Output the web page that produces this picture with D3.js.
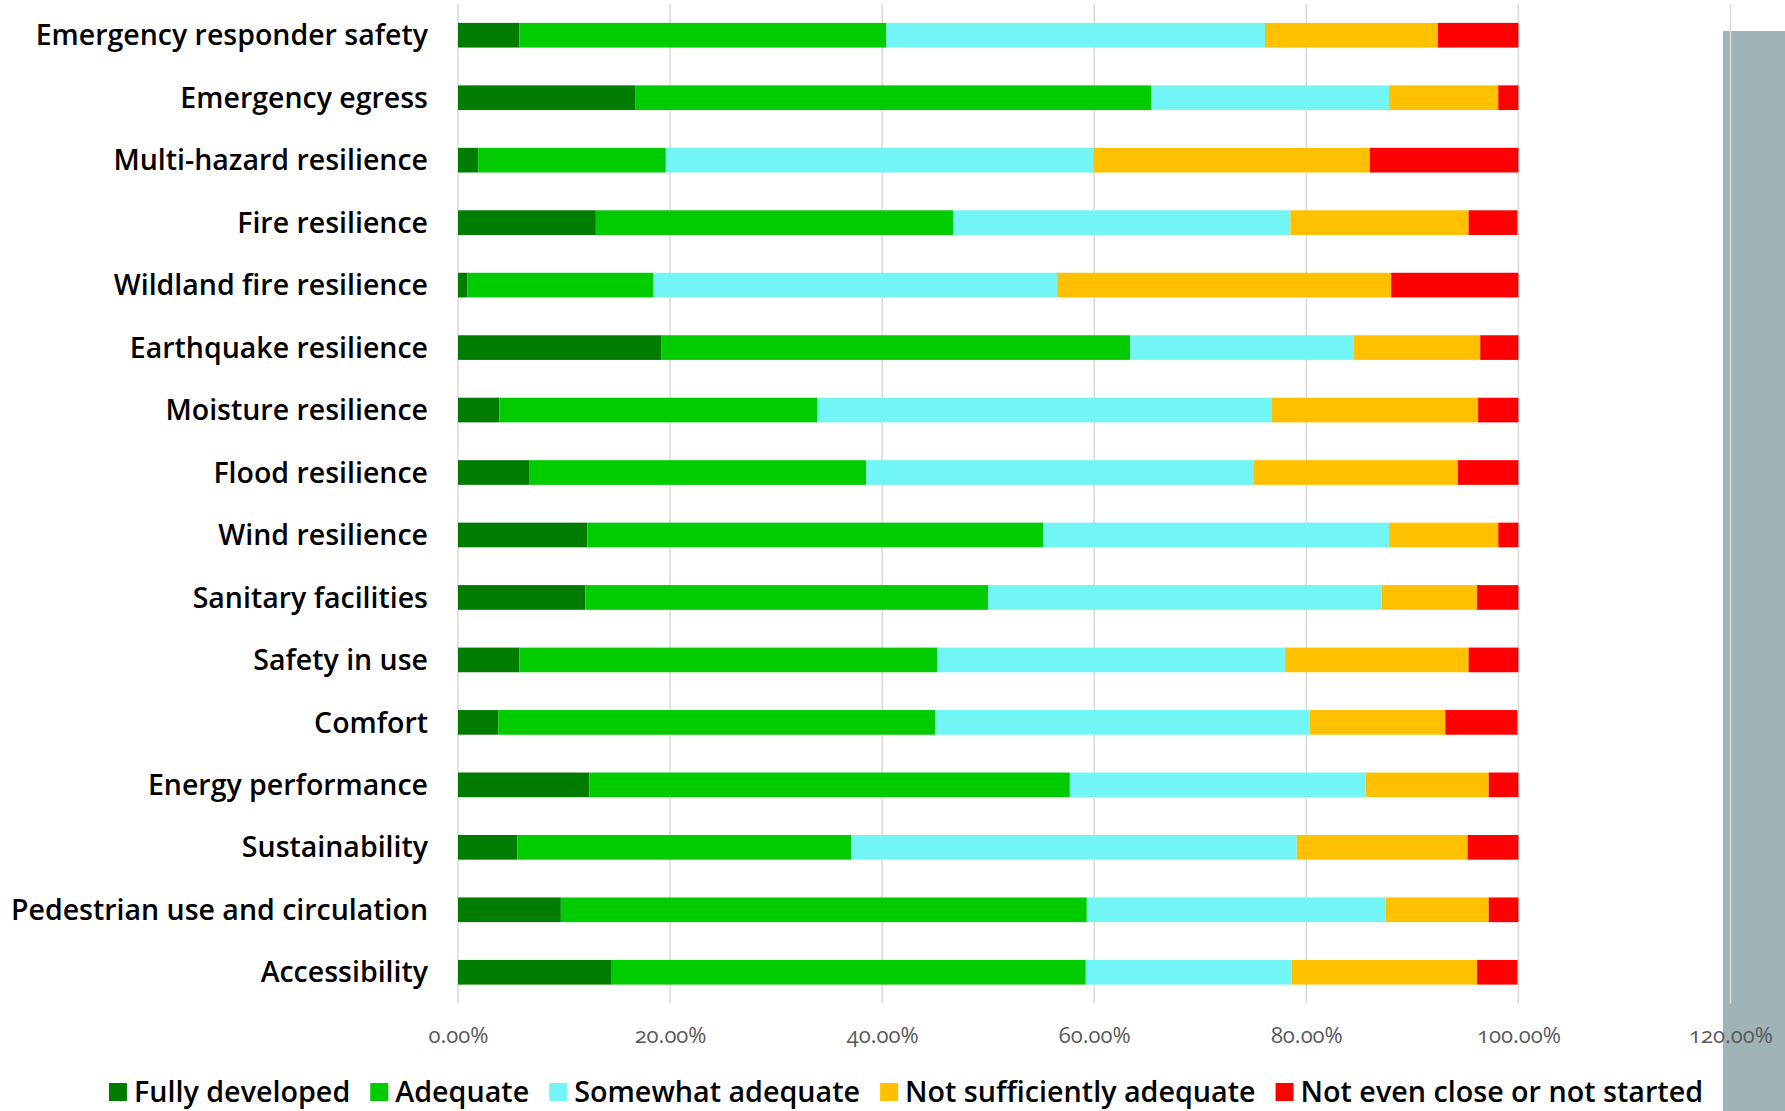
<!DOCTYPE html>
<html>
<head>
<meta charset="utf-8">
<script src="https://cdn.jsdelivr.net/npm/d3@7"></script>
<style>
  html, body { margin: 0; padding: 0; background: #ffffff; }
  svg { display: block; }
</style>
</head>
<body>
<svg id="chart" width="1785" height="1111"></svg>
<script>
// ---- data (percent of respondents) ----
const categories = [
  "Emergency responder safety",
  "Emergency egress",
  "Multi-hazard resilience",
  "Fire resilience",
  "Wildland fire resilience",
  "Earthquake resilience",
  "Moisture resilience",
  "Flood resilience",
  "Wind resilience",
  "Sanitary facilities",
  "Safety in use",
  "Comfort",
  "Energy performance",
  "Sustainability",
  "Pedestrian use and circulation",
  "Accessibility"
];
const seriesNames = ["Fully developed", "Adequate", "Somewhat adequate", "Not sufficiently adequate", "Not even close or not started"];
const fullyDeveloped   = [5.8, 16.7, 1.9, 13.0, 0.9, 19.2, 3.9, 6.7, 12.2, 12.0, 5.8, 3.8, 12.4, 5.6, 9.7, 14.5];
const adequate         = [34.6, 48.7, 17.7, 33.7, 17.5, 44.2, 30.0, 31.8, 43.0, 38.0, 39.4, 41.2, 45.3, 31.5, 49.6, 44.7];
const somewhatAdequate = [35.7, 22.4, 40.3, 31.8, 38.1, 21.1, 42.8, 36.5, 32.6, 37.1, 32.8, 35.3, 27.9, 42.0, 28.2, 19.4];
const notSufficiently  = [16.3, 10.3, 26.1, 16.8, 31.5, 11.9, 19.5, 19.3, 10.3, 9.0, 17.3, 12.8, 11.6, 16.1, 9.7, 17.5];
const notEvenClose     = [7.7, 1.9, 14.0, 4.6, 12.0, 3.6, 3.8, 5.8, 1.9, 4.0, 4.8, 6.8, 2.9, 4.8, 2.9, 3.8];
const xTicks = [0, 20, 40, 60, 80, 100, 120];
const colors = ["#007c00", "#00cc00", "#72f5f5", "#ffc000", "#ff0000"];

// ---- build table ----
const seriesValues = [fullyDeveloped, adequate, somewhatAdequate, notSufficiently, notEvenClose];
const table = categories.map((c, i) => {
  const row = { category: c };
  seriesNames.forEach((s, j) => { row[s] = seriesValues[j][i]; });
  return row;
});
const stacked = d3.stack().keys(seriesNames)(table);

const svg = d3.select("#chart");
const W = 1785, H = 1111;
const margin = { left: 458, right: 55, top: 4, bottom: 107.5 };

// grey strip at right edge
svg.append("rect")
  .attr("x", 1723).attr("y", 31)
  .attr("width", W - 1723).attr("height", H - 31)
  .attr("fill", "#a0b4b8");

const x = d3.scaleLinear().domain([0, 120]).range([margin.left, 1730.5]);
const y = d3.scaleBand().domain(categories).range([margin.top, H - margin.bottom]).paddingInner(0.605).paddingOuter(0.3025);
const color = d3.scaleOrdinal().domain(seriesNames).range(colors);

// gridlines
svg.append("g").selectAll("line").data(xTicks).join("line")
  .attr("x1", d => x(d)).attr("x2", d => x(d))
  .attr("y1", margin.top).attr("y2", H - margin.bottom)
  .attr("stroke", "#d9d9d9").attr("stroke-width", 1.5);

// bars
svg.append("g").selectAll("g").data(stacked).join("g")
  .attr("fill", d => color(d.key))
  .selectAll("rect").data(d => d).join("rect")
  .attr("x", d => x(d[0]))
  .attr("width", d => Math.max(0, x(Math.min(d[1], 100)) - x(d[0])))
  .attr("y", d => y(d.data.category))
  .attr("height", y.bandwidth());

// category axis labels
const yAxis = d3.axisLeft(y).tickSize(0).tickPadding(30);
const yg = svg.append("g").attr("transform", `translate(${margin.left},1)`).call(yAxis);
yg.select(".domain").remove();
yg.selectAll("text")
  .attr("font-family", "'Open Sans', sans-serif")
  .attr("font-weight", 600)
  .attr("font-size", 28.5)
  .attr("fill", "#000000");

// x axis tick labels
const xAxis = d3.axisBottom(x).tickValues(xTicks).tickSize(0).tickPadding(0)
  .tickFormat(d => d3.format(".2f")(d) + "%");
const xg = svg.append("g").attr("transform", `translate(0,1027)`).call(xAxis);
xg.select(".domain").remove();
xg.selectAll("text")
  .attr("font-family", "'Open Sans', sans-serif")
  .attr("font-size", 22)
  .attr("fill", "#595959")
  .style("font-variant-numeric", "oldstyle-nums");

// legend
const legend = svg.append("g");
const items = legend.selectAll("g").data(seriesNames).join("g");
items.append("rect").attr("width", 18).attr("height", 18).attr("y", 1083)
  .attr("fill", d => color(d));
items.append("text").attr("x", 25).attr("y", 1102)
  .attr("font-family", "'Open Sans', sans-serif")
  .attr("font-weight", 600)
  .attr("font-size", 28.7)
  .attr("fill", "#000000")
  .text(d => d);
let cx = 0;
const offs = [];
items.each(function () {
  const w = this.getBBox().width;
  offs.push(cx);
  cx += w + 20;
});
const total = cx - 20;
const start = 906 - total / 2;
items.attr("transform", (d, i) => `translate(${start + offs[i]},0)`);
</script>
</body>
</html>
